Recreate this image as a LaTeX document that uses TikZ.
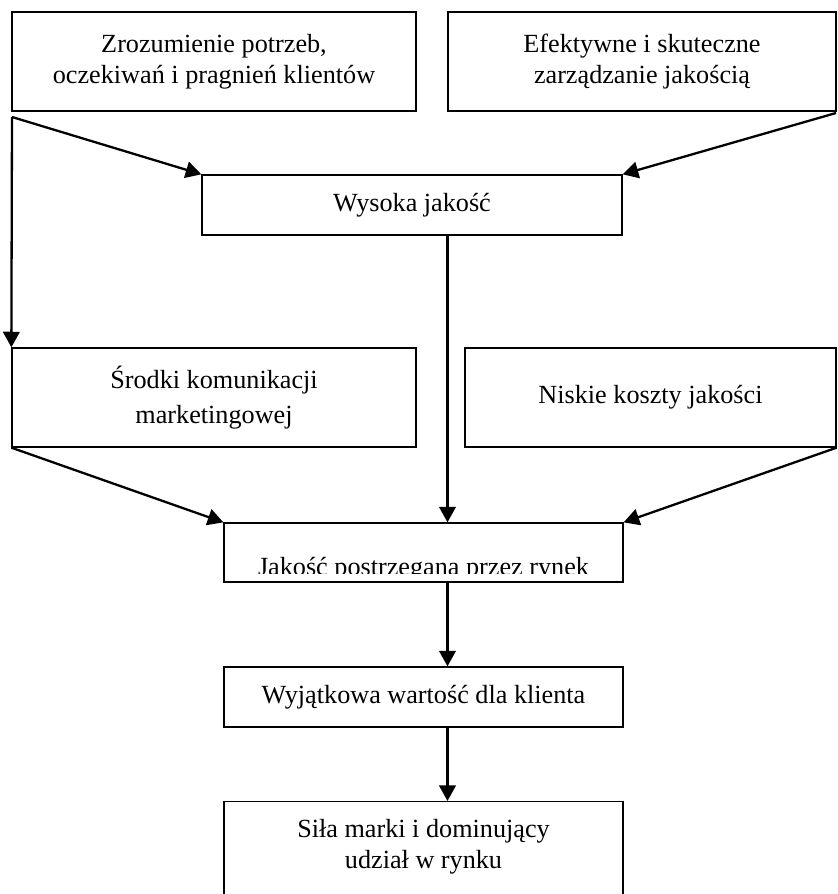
\documentclass[tikz,border=0pt]{standalone}
\usepackage{fontspec}
\setmainfont{Liberation Serif}
\usetikzlibrary{calc,arrows.meta}

\begin{document}
\begin{tikzpicture}[
  x=0.5pt, y=-0.5pt,
  box/.style={rectangle, draw, line width=0.65pt, inner sep=0pt, align=center,
    font=\fontsize{13.1}{15.5}\selectfont},
  arr/.style={line width=1.15pt, -{Triangle[length=7.8pt,width=8.3pt]}}
]
\useasboundingbox (0,0) rectangle (837,894);

\node[box, minimum width=202pt, minimum height=49.5pt] (potrzeby) at (214,61.5) {Zrozumienie potrzeb,\\oczekiwań i pragnień klientów};
\node[box, minimum width=194pt, minimum height=49.5pt] (zarzadzanie) at (642,61.5) {Efektywne i skuteczne\\zarządzanie jakością};
\node[box, minimum width=210pt, minimum height=30pt] (wysoka) at (412,205) {Wysoka jakość};
\node[box, minimum width=202pt, minimum height=49.5pt, font=\fontsize{13.1}{17.5}\selectfont] (srodki) at (214,397.5) {Środki komunikacji\\marketingowej};
\node[box, minimum width=185.5pt, minimum height=49.5pt] (koszty) at (650.5,397.5) {Niskie koszty jakości};
\node[box, minimum width=199.5pt, minimum height=29.5pt] (rynek) at (423.5,552.5) {};
% text cut off by the lower edge, as in the source
\begin{scope}
  \clip (rynek.north west) rectangle ($(rynek.south east)+(0,4.5pt)$);
  \node[anchor=base, font=\fontsize{13.1}{15.5}\selectfont] (rynektxt) at ($(rynek.south)+(0,3.5pt)$) {Jakość postrzegana przez rynek};
\end{scope}
\node[box, minimum width=199.5pt, minimum height=30pt] (wartosc) at (423.5,697) {Wyjątkowa wartość dla klienta};
\node[box, anchor=north, minimum width=199.5pt, inner ysep=9pt, text depth=40pt] (marka) at (423.5,801) {Siła marki i dominujący\\udział w rynku};

\coordinate (lsplit) at (12,117);
\coordinate (rsplit) at (836,113);
\coordinate (axis) at (447.5,0);

\draw[arr] (lsplit) -- (wysoka.north west);
\draw[arr] (lsplit) -- (srodki.north west);
\draw[arr] (rsplit) -- (wysoka.north east);
\draw[arr] (wysoka.south -| axis) -- (rynek.north -| axis);
\draw[arr] (srodki.south west) -- (rynek.north west);
\draw[arr] (koszty.south east) -- (rynek.north east);
\draw[arr] (rynek.south -| axis) -- (wartosc.north -| axis);
\draw[arr] (wartosc.south -| axis) -- (marka.north -| axis);
\end{tikzpicture}
\end{document}
